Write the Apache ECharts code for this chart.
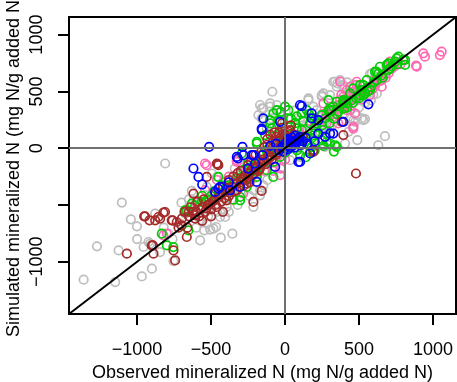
<!DOCTYPE html>
<html>
<head>
<meta charset="utf-8">
<script src="https://cdn.jsdelivr.net/npm/echarts@6/dist/echarts.min.js"></script>
<style>
html,body{margin:0;padding:0;background:#fff;}
#chart{width:457px;height:382px;}
</style>
</head>
<body>
<div id="chart"></div>
<script>
// axis limits and ticks
const axisMin = -1460;
const axisMax = 1155;
const tickValues = [-1000, -500, 0, 500, 1000];
const xLabelValues = [-1000, -500, 0, 500, 1000];
const yLabelValues = [-1000, 0, 500, 1000];
const xTitle = 'Observed mineralized N (mg N/g added N)';
const yTitle = 'Simulated mineralized N (mg N/g added N)';

// series values [observed, simulated]
const greyPts = [[-1361,-1158],[-1271,-864],[-1148,-1179],[-1125,-900],[-1103,-479],[-1042,-626],[-1001,-688],[-968,-1129],[-900,-1061],[-956,-870],[-923,-826],[-878,-576],[-810,-135],[-754,-994],[-788,-753],[-630,-376],[-574,-811],[-547,-723],[-506,-717],[-466,-694],[-434,-788],[-356,-753],[-439,-606],[-394,-517],[-169,-415],[-214,-370],[-461,-253],[-495,-223],[-619,-459],[-675,-576],[-529,-341],[-146,350],[-86,497],[-101,365],[-158,262],[-45,335],[-124,173],[-56,218],[248,453],[158,423],[326,585],[353,570],[394,535],[540,256],[488,71],[630,26],[675,106],[574,653],[596,473],[405,41],[428,144],[293,26],[461,194],[270,12],[484,291],[349,306],[214,335],[191,365],[416,453],[450,394],[34,-106],[101,-76],[-214,-517],[-259,-282],[-349,-459],[-709,-664],[-574,-635],[56,71],[146,159],[236,188],[506,423],[562,526],[608,541],[-157,350],[-147,247],[-90,262],[248,468],[428,497],[529,247],[462,247],[338,585],[372,600],[349,541],[394,556],[586,659],[608,629],[518,262],[439,262],[473,232],[349,409],[-912,-841],[-845,-915],[-676,-547],[-484,-709],[-529,-665],[-405,-606],[-169,-371],[-147,-327],[-101,394],[-56,380],[259,483],[-20,280],[60,330],[120,300],[200,250],[160,210],[100,250],[-10,150],[300,300],[250,280],[320,200],[380,350],[280,120],[200,80],[-169,380],[-180,291],[158,438],[304,468],[-700,-480],[-650,-450],[-600,-700],[-520,-600],[-460,-560],[-380,-560],[-320,-500],[-300,-380],[-240,-420],[-200,-260],[-120,-280],[-80,-160],[-40,-60],[0,40],[40,120],[80,180],[120,200],[180,140],[240,140],[300,180],[340,260],[400,300],[440,340],[500,360],[540,400],[580,420],[620,480],[520,560],[460,560],[420,580],[-260,-140],[-340,-180],[-380,-420],[-1000,-800],[-820,-700],[-760,-800]];

const pinkPts = [[1058,850],[1046,820],[934,835],[945,806],[885,726],[664,629],[709,762],[653,600],[484,556],[439,541],[462,497],[394,453],[450,424],[372,380],[417,335],[473,306],[653,541],[574,468],[484,585],[417,512],[372,424],[304,365],[439,335],[462,188],[360,218],[653,629],[687,718],[890,718],[597,556],[-529,-150],[-540,-370],[-822,-767],[-326,-106],[-282,-400],[-541,-135],[-326,-121],[-799,-753],[-34,-238],[-371,-282],[-236,-106],[461,173],[500,500],[520,480],[550,520],[600,600],[620,580],[680,650],[720,700],[750,760],[400,400],[350,340],[330,300],[300,280],[250,250],[280,220],[200,200],[420,380],[560,540],[380,470],[480,450],[520,430],[440,470],[-100,-60],[-160,-140],[-200,-180],[-420,-300],[-460,-280],[-80,-200],[-30,-180],[-600,-480],[-250,-250],[150,170],[100,120],[259,394],[372,585],[330,340],[360,380],[390,360],[410,430],[430,400],[460,440],[500,460],[530,500],[560,500],[590,520],[610,560],[640,590],[680,620],[700,660],[740,720],[780,740],[800,780],[280,300],[250,300],[220,240],[-380,-250],[-300,-220],[-140,-200],[-60,-120],[0,-100]];

const brownPts = [[479,-223],[383,232],[394,115],[191,-18],[-457,-141],[-529,-253],[-214,-473],[-158,-376],[-1069,-929],[-952,-600],[-916,-635],[-889,-929],[-893,-855],[-822,-567],[-844,-620],[-760,-635],[-754,-900],[-743,-988],[-698,-620],[-664,-782],[-608,-620],[-946,-600],[-856,-606],[-766,-635],[-901,-856],[-811,-562],[-878,-635],[-732,-650],[-619,-400],[-461,-135],[-507,-488],[-461,-518],[-394,-459],[-326,-371],[-259,-312],[-700,-680],[-650,-600],[-600,-560],[-580,-600],[-560,-520],[-540,-560],[-520,-500],[-500,-540],[-480,-460],[-450,-430],[-430,-470],[-400,-380],[-380,-420],[-360,-340],[-340,-380],[-300,-300],[-280,-260],[-260,-280],[-240,-220],[-220,-240],[-200,-180],[-180,-200],[-160,-140],[-140,-120],[-120,-100],[-100,-80],[-80,-40],[-60,-60],[-40,-20],[-20,0],[0,20],[20,60],[40,40],[-60,100],[-40,140],[-20,180],[0,120],[20,150],[-80,60],[-100,120],[60,120],[40,200],[-120,30],[-160,-30],[-200,-60],[-250,-150],[-300,-200],[-350,-250],[-420,-340],[-470,-400],[-550,-450],[-620,-560],[-680,-560],[-720,-700],[-660,-700],[-560,-640],[-500,-600],[-420,-560],[80,80],[120,100],[100,30],[-451,-150],[-11,129],[34,159],[191,-32],[-650,-560],[-610,-590],[-570,-540],[-530,-530],[-490,-470],[-470,-500],[-440,-410],[-410,-440],[-390,-360],[-370,-390],[-330,-310],[-310,-340],[-290,-280],[-270,-240],[-250,-260],[-230,-200],[-210,-220],[-190,-160],[-170,-180],[-150,-120],[-130,-140],[-110,-70],[-90,-100],[-70,-30],[-50,-40],[-30,10],[-10,30],[10,50],[30,80],[-50,60],[-30,90],[-10,60],[10,100],[-70,140],[-20,220],[-120,80],[-140,10],[-180,-110],[-230,-120],[-320,-220],[-590,-470],[-640,-520],[-380,-280],[-280,-330],[-240,-300]];

const greenPts = [[766,806],[811,777],[811,733],[743,762],[687,733],[709,703],[631,659],[552,600],[529,556],[518,512],[540,483],[574,512],[394,409],[315,335],[529,468],[754,791],[698,747],[641,717],[619,673],[506,556],[461,526],[439,482],[394,423],[326,365],[293,335],[248,291],[191,262],[169,218],[293,423],[349,409],[416,394],[608,674],[799,777],[507,468],[394,394],[304,335],[270,262],[214,218],[338,26],[282,56],[203,41],[-56,335],[22,335],[113,306],[-101,247],[-34,247],[-191,56],[-135,115],[-90,174],[79,174],[124,71],[-191,41],[-293,-47],[-248,-121],[-214,-194],[147,335],[113,159],[203,130],[248,71],[169,-32],[101,-62],[304,41],[-34,-77],[-79,306],[0,365],[-101,218],[34,188],[-630,-488],[-664,-547],[-563,-473],[-529,-459],[-349,-453],[-304,-459],[-259,-341],[-191,-253],[-124,-194],[-79,-253],[-79,-121],[-833,-753],[-799,-855],[-676,-547],[-653,-724],[-676,-562],[-608,-503],[-541,-474],[-451,-253],[-259,-224],[-169,-165],[-304,-430],[-755,-871],[-124,-18],[-191,-209],[-400,-350],[-350,-300],[-450,-400],[-500,-420],[-150,-100],[-100,-60],[-60,-20],[0,-40],[50,20],[100,80],[150,100],[200,180],[250,200],[350,300],[400,350],[450,420],[480,440],[600,580],[650,640],[700,690],[60,100],[-20,60],[40,260],[80,280],[120,240],[-40,120],[0,90],[200,-20],[260,20],[330,-30],[349,12],[-560,-420],[-520,-450],[-480,-380],[-420,-330],[-380,-330],[-330,-270],[-300,-260],[-280,-190],[-240,-170],[-200,-140],[-160,-60],[-120,-40],[-80,10],[-40,30],[20,0],[60,60],[110,30],[140,60],[180,90],[220,120],[260,160],[300,220],[330,260],[360,320],[420,360],[460,400],[500,440],[560,500],[580,540],[620,600],[660,620],[720,720],[760,740],[180,10],[80,-20],[140,-80],[-30,320],[20,260],[70,220],[160,300]];

const bluePts = [[-513,12],[-288,12],[-619,-179],[-585,-253],[-319,-91],[-281,-62],[-214,-62],[-151,-62],[-326,-77],[-157,159],[-451,-356],[-372,-371],[-473,-385],[-191,-297],[-304,-341],[-439,-341],[-158,173],[-34,232],[113,370],[180,262],[563,386],[394,232],[101,380],[-147,262],[180,306],[225,247],[304,130],[101,-121],[-225,-62],[90,-121],[169,-47],[-67,-165],[225,129],[326,129],[-203,-135],[10,20],[30,40],[50,60],[70,70],[20,-10],[60,30],[90,80],[40,10],[0,0],[80,50],[100,100],[-20,10],[120,60],[50,90],[30,70],[5,45],[65,5],[-40,-20],[-10,-30],[20,80],[110,30],[140,90],[-60,40],[70,110],[150,40],[-100,20],[200,60],[270,100],[-250,-180],[-380,-300],[-560,-320]];

const seriesDefs = [
  {name: 'grey', data: greyPts, color: '#bebebe'},
  {name: 'pink', data: pinkPts, color: '#ff69b4'},
  {name: 'green', data: greenPts, color: '#00cd00'},
  {name: 'brown', data: brownPts, color: '#a52a2a'},
  {name: 'blue', data: bluePts, color: '#0000ff'}
];

const font = '"Liberation Sans", Arial, Helvetica, sans-serif';
const fontSize = 18;
const chart = echarts.init(document.getElementById('chart'), null, {renderer: 'canvas'});
const fmt = v => String(v).replace('-', '\u2212');

const series = seriesDefs.map(d => ({
  name: d.name,
  type: 'scatter',
  data: d.data,
  symbol: 'circle',
  symbolSize: 8.5,
  itemStyle: {color: 'rgba(0,0,0,0)', borderColor: d.color, borderWidth: 1.7, opacity: 1},
  emphasis: {disabled: true},
  silent: true,
  z: 2
}));

series.push({
  name: 'lines',
  type: 'scatter',
  data: [],
  z: 5,
  silent: true,
  markLine: {
    silent: true,
    symbol: ['none', 'none'],
    label: {show: false},
    animation: false,
    data: [
      {xAxis: 0, lineStyle: {color: '#707070', width: 2, type: 'solid'}},
      {yAxis: 0, lineStyle: {color: '#707070', width: 2, type: 'solid'}},
      [{coord: [axisMin, axisMin], lineStyle: {color: '#000', width: 2, type: 'solid'}}, {coord: [axisMax, axisMax]}]
    ]
  }
});

const axisCommon = {
  type: 'value',
  min: axisMin,
  max: axisMax,
  splitLine: {show: false},
  axisLine: {show: true, onZero: false, lineStyle: {color: '#000', width: 2}},
  axisTick: {show: true, inside: false, length: 11, lineStyle: {color: '#000', width: 2}, customValues: tickValues},
  nameLocation: 'middle',
  nameTextStyle: {fontFamily: font, fontSize: fontSize, color: '#000'}
};

chart.setOption({
  animation: false,
  backgroundColor: '#fff',
  grid: {left: 69, right: 1, top: 17, bottom: 68, show: true, borderColor: '#000', borderWidth: 2,
    backgroundColor: 'transparent', containLabel: false, outerBoundsMode: 'none'},
  xAxis: Object.assign({}, axisCommon, {
    name: xTitle,
    nameGap: 50,
    axisLabel: {fontFamily: font, fontSize: fontSize, color: '#000', margin: 27, customValues: xLabelValues, formatter: fmt}
  }),
  yAxis: Object.assign({}, axisCommon, {
    name: yTitle,
    nameGap: 46,
    axisLabel: {show: false}
  }),
  series: series
});

// rotated y tick labels, placed through the y axis scale
const yLabelGraphics = yLabelValues.map(v => ({
  type: 'text',
  x: 37,
  y: chart.convertToPixel({yAxisIndex: 0}, v),
  rotation: Math.PI / 2,
  silent: true,
  style: {text: fmt(v), fontFamily: font, fontSize: fontSize, fill: '#000', align: 'center', verticalAlign: 'middle'}
}));
chart.setOption({graphic: yLabelGraphics});
</script>
</body>
</html>
